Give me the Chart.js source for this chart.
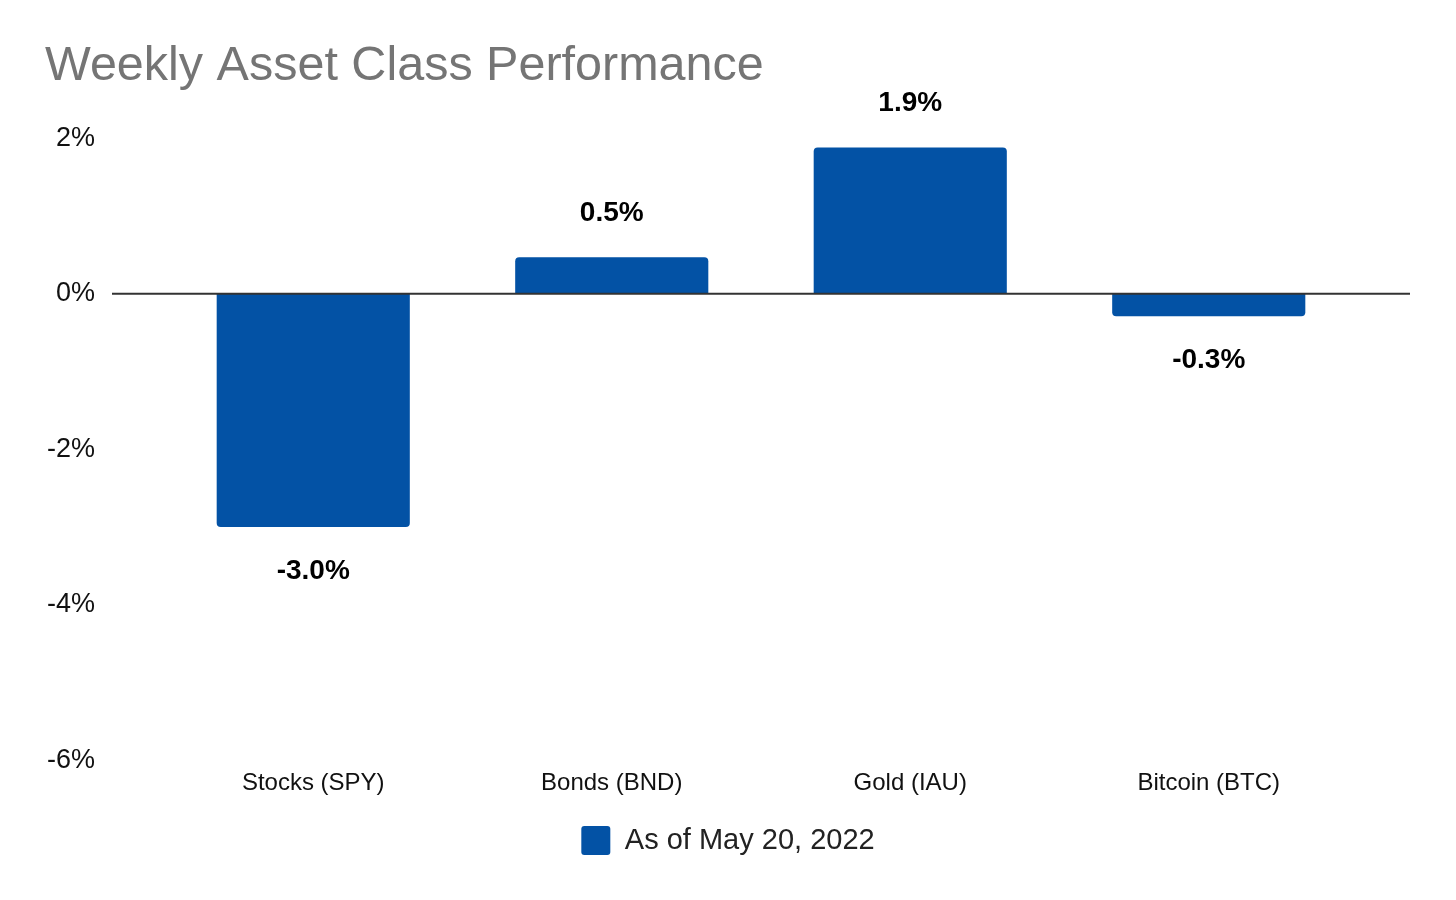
<!DOCTYPE html>
<html>
<head>
<meta charset="utf-8">
<script src="https://cdn.jsdelivr.net/npm/chart.js@4/dist/chart.umd.min.js"></script>
<style>
  html, body { margin: 0; padding: 0; background: #ffffff; }
  #wrap { width: 1456px; height: 900px; }
</style>
</head>
<body>
<div id="wrap"><canvas id="c" width="1456" height="900"></canvas></div>
<script>
const titleText = 'Weekly Asset Class Performance';
const seriesLabel = 'As of May 20, 2022';
const categories = ['Stocks (SPY)', 'Bonds (BND)', 'Gold (IAU)', 'Bitcoin (BTC)'];
const weeklyReturns = [-3.0, 0.47, 1.88, -0.29];
const yTicks = [2, 0, -2, -4, -6];

const FONT = '"Liberation Sans", Arial, sans-serif';
const BAR_COLOR = '#0352a5';

const zeroLinePlugin = {
  id: 'zeroLine',
  afterDatasetsDraw(chart) {
    const y = chart.scales.y.getPixelForValue(0);
    const ctx = chart.ctx;
    const a = chart.chartArea;
    ctx.save();
    ctx.strokeStyle = '#333333';
    ctx.lineWidth = 2;
    ctx.beginPath();
    ctx.moveTo(a.left - 52, y);
    ctx.lineTo(a.right + 52, y);
    ctx.stroke();
    ctx.restore();
  }
};

const valueLabelPlugin = {
  id: 'valueLabels',
  afterDatasetsDraw(chart) {
    const ctx = chart.ctx;
    const meta = chart.getDatasetMeta(0);
    const data = chart.data.datasets[0].data;
    ctx.save();
    ctx.font = 'bold 28px ' + FONT;
    ctx.fillStyle = '#000000';
    ctx.textAlign = 'center';
    ctx.textBaseline = 'middle';
    meta.data.forEach((bar, i) => {
      const v = data[i];
      const y = v >= 0 ? bar.y - 44 : bar.y + 44;
      ctx.fillText(v.toFixed(1) + '%', bar.x, y);
    });
    ctx.restore();
  }
};

new Chart(document.getElementById('c'), {
  type: 'bar',
  data: {
    labels: categories,
    datasets: [{
      label: seriesLabel,
      data: weeklyReturns,
      backgroundColor: BAR_COLOR,
      borderRadius: 4,
      borderSkipped: 'start',
      categoryPercentage: 1.0,
      barPercentage: 0.647
    }]
  },
  options: {
    responsive: false,
    animation: false,
    devicePixelRatio: 1,
    layout: { padding: { left: 45, right: 45, top: 0, bottom: 35 } },
    plugins: {
      title: {
        display: true,
        text: titleText,
        align: 'start',
        color: '#757575',
        font: { family: FONT, size: 48.5, weight: 'normal' },
        padding: { top: 38, bottom: 42 }
      },
      legend: {
        display: true,
        position: 'bottom',
        labels: {
          boxWidth: 29,
          boxHeight: 29,
          padding: 19,
          color: '#222222',
          useBorderRadius: true,
          borderRadius: 3,
          font: { family: FONT, size: 29 }
        }
      },
      tooltip: { enabled: false }
    },
    scales: {
      x: {
        grid: { display: false, drawTicks: false },
        border: { display: false },
        ticks: {
          color: '#111111',
          padding: 9,
          font: { family: FONT, size: 24 }
        }
      },
      y: {
        min: -6,
        max: 2,
        afterBuildTicks: s => { s.ticks = yTicks.map(v => ({ value: v })); },
        afterFit: s => { s.width = 119; },
        grid: { display: false, drawTicks: false },
        border: { display: false },
        ticks: {
          color: '#111111',
          padding: 69,
          font: { family: FONT, size: 27 },
          callback: v => v + '%'
        }
      },
      yRight: {
        position: 'right',
        display: true,
        min: 0,
        max: 1,
        afterFit: s => { s.width = 53; },
        grid: { display: false, drawTicks: false },
        border: { display: false },
        ticks: { display: false }
      }
    }
  },
  plugins: [zeroLinePlugin, valueLabelPlugin]
});
</script>
</body>
</html>
